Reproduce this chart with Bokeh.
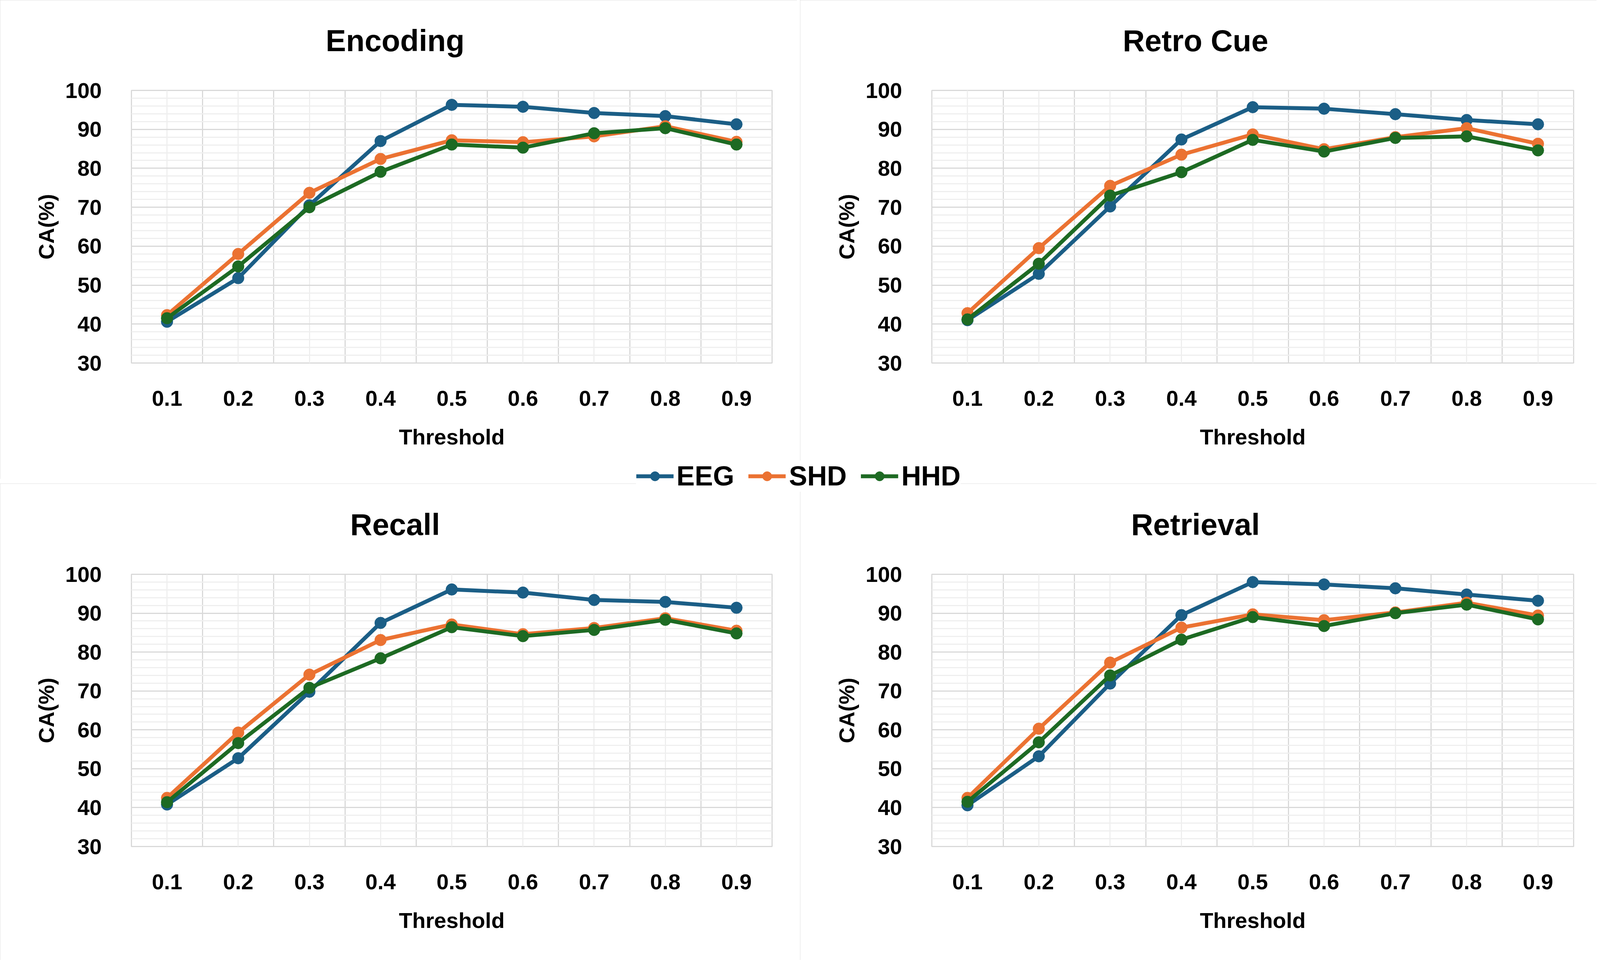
from bokeh.plotting import figure
from bokeh.models import Range1d, FixedTicker, Title, Legend, LegendItem
from bokeh.layouts import row, column
from bokeh.embed import file_html
from bokeh.resources import INLINE

# ---------------- data ----------------
thresholds = ["0.1", "0.2", "0.3", "0.4", "0.5", "0.6", "0.7", "0.8", "0.9"]
y_ticks = [30, 40, 50, 60, 70, 80, 90, 100]
y_minor_ticks = [32, 34, 36, 38, 42, 44, 46, 48, 52, 54, 56, 58, 62, 64, 66, 68,
                 72, 74, 76, 78, 82, 84, 86, 88, 92, 94, 96, 98]

series_names = ["EEG", "SHD", "HHD"]
series_colors = ["#1B5E86", "#EB7232", "#1D6A23"]

panel_titles = ["Encoding", "Retro Cue", "Recall", "Retrieval"]

encoding_eeg = [40.6, 51.8, 70.5, 87.0, 96.3, 95.8, 94.2, 93.4, 91.3]
encoding_shd = [42.3, 58.0, 73.7, 82.4, 87.2, 86.7, 88.2, 90.8, 86.8]
encoding_hhd = [41.5, 54.8, 70.0, 79.1, 86.1, 85.3, 89.0, 90.3, 86.1]

retro_eeg = [41.0, 52.9, 70.2, 87.4, 95.7, 95.3, 93.9, 92.4, 91.3]
retro_shd = [42.8, 59.5, 75.5, 83.5, 88.7, 84.9, 88.0, 90.3, 86.3]
retro_hhd = [41.2, 55.5, 73.0, 79.0, 87.3, 84.3, 87.8, 88.2, 84.6]

recall_eeg = [40.8, 52.7, 69.8, 87.5, 96.1, 95.3, 93.4, 92.9, 91.4]
recall_shd = [42.5, 59.3, 74.2, 83.1, 87.1, 84.6, 86.2, 88.7, 85.5]
recall_hhd = [41.4, 56.6, 70.8, 78.4, 86.4, 84.1, 85.7, 88.3, 84.8]

retrieval_eeg = [40.6, 53.2, 71.9, 89.5, 98.0, 97.4, 96.4, 94.8, 93.2]
retrieval_shd = [42.5, 60.3, 77.3, 86.3, 89.7, 88.2, 90.2, 92.7, 89.4]
retrieval_hhd = [41.5, 56.8, 74.0, 83.2, 89.0, 86.7, 90.0, 92.2, 88.4]

panel_eeg = [encoding_eeg, retro_eeg, recall_eeg, retrieval_eeg]
panel_shd = [encoding_shd, retro_shd, recall_shd, retrieval_shd]
panel_hhd = [encoding_hhd, retro_hhd, recall_hhd, retrieval_hhd]

# ---------------- style ----------------
FONT = "Liberation Sans"
GRID_MAJOR = "#d9d9d9"
GRID_MINOR = "#efefef"
TITLE_PX = 78
# Arial/Liberation Sans Bold advance widths (per 1000 em) used to centre titles on the chart area
BOLD_W = {"E": 667, "n": 611, "c": 556, "o": 611, "d": 611, "i": 278, "g": 611, "R": 722,
          "e": 556, "t": 333, "r": 389, " ": 278, "C": 722, "u": 611, "a": 556, "l": 278, "v": 556}


def text_width(s, px):
    return sum(BOLD_W.get(ch, 600) for ch in s) * px / 1000.0


def make_panel(title, eeg, shd, hhd, width, height, top, bottom, left, right):
    x = list(range(1, len(thresholds) + 1))
    p = figure(width=width, height=height, output_backend="svg", toolbar_location=None,
               x_range=Range1d(0.5, len(thresholds) + 0.5),
               y_range=Range1d(y_ticks[0], y_ticks[-1]),
               min_border_left=left, min_border_right=right,
               min_border_top=top, min_border_bottom=bottom,
               background_fill_color="white", border_fill_color="white",
               outline_line_color=GRID_MAJOR, outline_line_width=3,
               styles={"outline": "3px solid #d9d9d9", "outline-offset": "-3px"})

    # axes
    p.xaxis.ticker = FixedTicker(ticks=x)
    p.xaxis.major_label_overrides = {xi: t for xi, t in zip(x, thresholds)}
    p.yaxis.ticker = FixedTicker(ticks=y_ticks)
    for ax in (p.xaxis[0], p.yaxis[0]):
        ax.axis_line_color = None
        ax.major_tick_line_color = None
        ax.minor_tick_line_color = None
        ax.major_tick_in = 0
        ax.major_tick_out = 0
        ax.minor_tick_in = 0
        ax.minor_tick_out = 0
        ax.major_label_text_font = FONT
        ax.major_label_text_font_size = "56px"
        ax.major_label_text_font_style = "bold"
        ax.major_label_text_color = "black"
        ax.axis_label_text_font = FONT
        ax.axis_label_text_font_size = "56px"
        ax.axis_label_text_font_style = "bold"
        ax.axis_label_text_color = "black"
    p.xaxis.major_label_standoff = 71
    p.yaxis.major_label_standoff = 76
    p.xaxis.axis_label = "Threshold"
    p.xaxis.axis_label_standoff = 45
    p.yaxis.axis_label = "CA(%)"
    p.yaxis.axis_label_standoff = 14

    # grids: major at category boundaries, faint minor at category centres
    p.xgrid.ticker = FixedTicker(ticks=[i + 0.5 for i in range(len(thresholds) + 1)], minor_ticks=x)
    p.xgrid.grid_line_color = GRID_MAJOR
    p.xgrid.grid_line_width = 3
    p.xgrid.minor_grid_line_color = GRID_MINOR
    p.xgrid.minor_grid_line_width = 3
    p.ygrid.ticker = FixedTicker(ticks=y_ticks, minor_ticks=y_minor_ticks)
    p.ygrid.grid_line_color = GRID_MAJOR
    p.ygrid.grid_line_width = 3
    p.ygrid.minor_grid_line_color = GRID_MINOR
    p.ygrid.minor_grid_line_width = 3

    for vals, color in zip((eeg, shd, hhd), series_colors):
        p.line(x, vals, line_color=color, line_width=10)
        p.scatter(x, vals, size=30, marker="circle", fill_color=color, line_color=color)

    # spacer between plot area and title, then the title centred on the chart area
    p.add_layout(Title(text=" ", text_font=FONT, text_font_size="69px", standoff=0), "above")
    p.add_layout(Title(text=title, align="left",
                       offset=675 - text_width(title, TITLE_PX) / 2,
                       text_font=FONT, text_font_size=f"{TITLE_PX}px", text_font_style="bold",
                       text_color="black", standoff=10), "above")
    return p


geom = [
    dict(width=2040, height=1226, top=231, bottom=297, left=336, right=64),
    dict(width=2039, height=1226, top=231, bottom=297, left=337, right=59),
    dict(width=2040, height=1220, top=232, bottom=291, left=336, right=64),
    dict(width=2039, height=1220, top=232, bottom=291, left=337, right=59),
]

panels = [make_panel(t, e, s, h, **g)
          for t, e, s, h, g in zip(panel_titles, panel_eeg, panel_shd, panel_hhd, geom)]

# ---------------- shared legend ----------------
leg_fig = figure(width=4087, height=120, output_backend="svg", toolbar_location=None,
                 x_range=Range1d(-1000, -999), y_range=Range1d(-1000, -999),
                 x_axis_type=None, y_axis_type=None, min_border=0,
                 outline_line_color=None, background_fill_alpha=0, border_fill_alpha=0,
                 styles={"margin-top": "-1311px", "position": "relative", "z-index": "10"})
items = []
leg_x = list(range(1, len(thresholds) + 1))
for name, color, vals in zip(series_names, series_colors, (encoding_eeg, encoding_shd, encoding_hhd)):
    lr = leg_fig.line(leg_x, vals, line_color=color, line_width=10)
    sr = leg_fig.scatter(leg_x, vals, size=26, marker="circle", fill_color=color, line_color=color)
    items.append(LegendItem(label=name, renderers=[lr, sr]))
legend = Legend(items=items, orientation="horizontal", location="center",
                label_text_font=FONT, label_text_font_size="70px", label_text_font_style="bold",
                label_text_color="black", glyph_width=96, glyph_height=60,
                label_standoff=8, spacing=36, padding=26, margin=0,
                border_line_color=None, background_fill_color="white", background_fill_alpha=1)
leg_fig.add_layout(legend, "center")

layout = column(row(panels[0], panels[1], spacing=8),
                row(panels[2], panels[3], spacing=8),
                leg_fig, spacing=12)

open("out.html", "w").write(file_html(layout, INLINE))
